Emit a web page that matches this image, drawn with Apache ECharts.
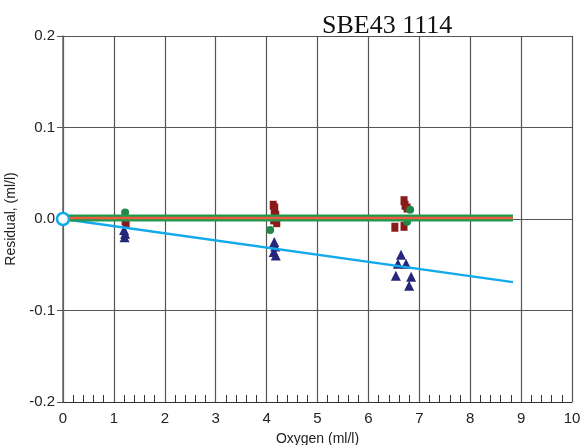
<!DOCTYPE html>
<html>
<head>
<meta charset="utf-8">
<script src="https://cdn.jsdelivr.net/npm/echarts@6/dist/echarts.min.js"></script>
<style>
  html, body { margin: 0; padding: 0; background: #fff; }
  #chart { width: 580px; height: 445px; }
</style>
</head>
<body>
<div id="chart"></div>
<script>
// residual points, [oxygen, residual]
var greenDots = [[1.22, 0.007], [4.07, -0.012], [6.82, 0.01], [6.76, -0.003]];
var redSquares = [
  [1.22, -0.002], [1.24, -0.004],
  [4.13, 0.015], [4.16, 0.012], [4.15, 0.008], [4.18, 0.004], [4.14, -0.001], [4.2, -0.004],
  [6.7, 0.02], [6.72, 0.015], [6.76, 0.012], [6.52, -0.009], [6.7, -0.008]
];
var blueTriangles = [
  [1.2, -0.012], [1.22, -0.016], [1.21, -0.02],
  [4.15, -0.025], [4.17, -0.03], [4.14, -0.036], [4.18, -0.04],
  [6.64, -0.039], [6.58, -0.049], [6.74, -0.049], [6.54, -0.062], [6.84, -0.063], [6.8, -0.073]
];
// fit lines
var greenFit = [[0, 0.001], [8.84, 0.001]];
var redFit = [[0, 0.001], [8.84, 0.001]];
var blueFit = [[0, 0], [8.84, -0.069]];

var chart = echarts.init(document.getElementById('chart'));
chart.setOption({
  animation: false,
  title: {
    text: 'SBE43 1114',
    left: 317,
    top: 8,
    textStyle: { fontFamily: 'Liberation Serif', fontWeight: 'normal', fontSize: 26, color: '#111' }
  },
  grid: { left: 63, right: 8, top: 36, bottom: 43, outerBoundsMode: 'none', containLabel: false },
  xAxis: {
    type: 'value',
    min: 0, max: 10, interval: 1,
    name: 'Oxygen (ml/l)',
    nameLocation: 'middle',
    nameGap: 30,
    nameTextStyle: { fontFamily: 'Liberation Sans', fontSize: 14, color: '#222' },
    axisLine: { onZero: false, lineStyle: { color: '#333', width: 1 } },
    axisTick: { show: false, inside: true },
    minorTick: { show: true, splitNumber: 5, length: 7, lineStyle: { color: '#333' } },
    axisLabel: { fontFamily: 'Liberation Sans', fontSize: 15, color: '#222', margin: 9 },
    splitLine: { show: true, lineStyle: { color: '#555', width: 1.2 } }
  },
  yAxis: {
    type: 'value',
    min: -0.2, max: 0.2, interval: 0.1,
    name: 'Residual, (ml/l)',
    nameLocation: 'middle',
    nameGap: 41,
    nameTextStyle: { fontFamily: 'Liberation Sans', fontSize: 14, color: '#222' },
    axisLine: { onZero: false, lineStyle: { color: '#666', width: 1.5 } },
    axisTick: { show: true, length: 6, lineStyle: { color: '#555' } },
    axisLabel: {
      fontFamily: 'Liberation Sans', fontSize: 15, color: '#222', margin: 8,
      formatter: function (v) { return v.toFixed(1); }
    },
    splitLine: { show: true, lineStyle: { color: '#555', width: 1.2 } }
  },
  series: [
    {
      type: 'scatter', data: redSquares, symbol: 'rect', symbolSize: [7, 9],
      itemStyle: { color: '#8b1a1a', opacity: 1 }
    },
    {
      type: 'scatter', data: blueTriangles, symbol: 'triangle', symbolSize: 10,
      itemStyle: { color: '#26267a', opacity: 1 }
    },
    {
      type: 'scatter', data: greenDots, symbol: 'circle', symbolSize: 8,
      itemStyle: { color: '#22884a', opacity: 1 }
    },
    {
      type: 'line', data: blueFit, showSymbol: false, symbol: 'none',
      lineStyle: { color: '#12aaea', width: 2.5 }
    },
    {
      type: 'line', data: greenFit, symbol: 'none',
      lineStyle: { color: '#1f9a4c', width: 7 }
    },
    {
      type: 'line', data: redFit, symbol: 'none',
      lineStyle: { color: '#ec5a40', width: 2.5 }
    },
    {
      type: 'scatter', data: [blueFit[0]], symbol: 'circle', symbolSize: 12,
      clip: false, z: 5,
      itemStyle: { color: '#fff', borderColor: '#12aaea', borderWidth: 2.5, opacity: 1 }
    }
  ]
});
</script>
</body>
</html>
